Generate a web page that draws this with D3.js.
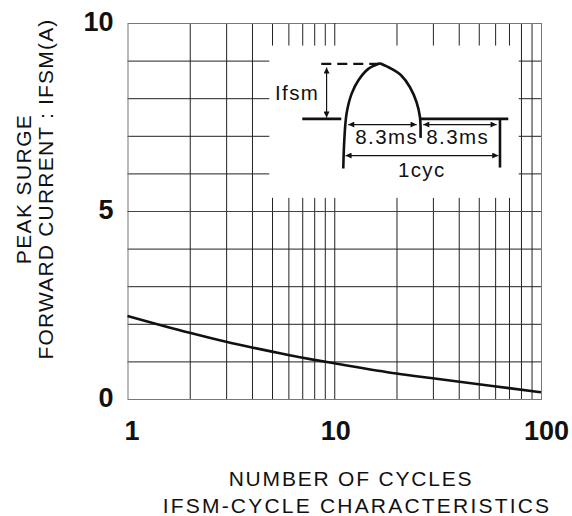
<!DOCTYPE html>
<html>
<head>
<meta charset="utf-8">
<script src="https://cdn.jsdelivr.net/npm/d3@7"></script>
<style>
  body { margin: 0; background: #fff; }
  text { font-family: "Liberation Sans", Arial, sans-serif; fill: #111; }
</style>
</head>
<body>
<svg id="chart"></svg>
<script>
// surge curve
const cycles = [1, 2, 3, 4, 5, 6, 8, 10, 20, 30, 50, 70, 100]
const ifsm = [2.21, 1.76, 1.52, 1.37, 1.26, 1.17, 1.04, 0.95, 0.68, 0.55, 0.39, 0.29, 0.18]

const xTicks = [1, 10, 100]
const xGrid = [2, 3, 4, 5, 6, 7, 8, 9, 20, 30, 40, 50, 60, 70, 80, 90]
const yTicks = [0, 5, 10]
const yGrid = [1, 2, 3, 4, 6, 7, 8, 9]

// where the inset sits, in chart units
const insetX = [4.85, 78]
const insetY = [5.35, 9.4]

const width = 572
const height = 516
const margin = { top: 23, right: 31, bottom: 117, left: 127.5 }
const w = width - margin.left - margin.right
const h = height - margin.top - margin.bottom

const svg = d3.select("#chart")
  .attr("width", width)
  .attr("height", height)

const g = svg.append("g")
  .attr("transform", `translate(${margin.left},${margin.top})`)

const x = d3.scaleLog().domain([1, 100]).range([0, w])
const y = d3.scaleLinear().domain([0, 10]).range([h, 0])

// grid
g.append("g")
  .attr("class", "grid")
  .attr("transform", `translate(0,${h})`)
  .call(d3.axisBottom(x).tickValues(xGrid).tickSize(-h).tickFormat(""))
  .call(s => s.select(".domain").remove())
  .selectAll("line").attr("stroke", "#222")

g.append("g")
  .attr("class", "grid")
  .call(d3.axisLeft(y).tickValues(yGrid).tickSize(-w).tickFormat(""))
  .call(s => s.select(".domain").remove())
  .selectAll("line").attr("stroke", "#222")

// frame
g.append("rect")
  .attr("x", 0.5).attr("y", 0.5)
  .attr("width", w).attr("height", h)
  .attr("fill", "none")
  .attr("stroke", "#777")

g.append("line")
  .attr("x1", x(10) + 0.5).attr("x2", x(10) + 0.5)
  .attr("y1", 0).attr("y2", h)
  .attr("stroke", "#222")
g.append("line")
  .attr("x1", 0).attr("x2", w)
  .attr("y1", y(5) + 0.5).attr("y2", y(5) + 0.5)
  .attr("stroke", "#444")

// tick labels
const xAxis = g.append("g")
  .attr("transform", `translate(0,${h})`)
  .call(d3.axisBottom(x).tickValues(xTicks).tickSize(0).tickFormat(d3.format("d")))
xAxis.select(".domain").remove()
xAxis.selectAll("text")
  .attr("y", 41)
  .attr("dy", 0)
  .attr("dx", (d, i) => [4, 1, 5][i])
  .attr("font-size", 27)
  .attr("font-weight", "bold")
  .attr("font-family", "Liberation Sans, Arial, sans-serif")
  .attr("fill", "#111")

const yAxis = g.append("g")
  .call(d3.axisLeft(y).tickValues(yTicks).tickSize(0).tickFormat(d3.format("d")))
yAxis.select(".domain").remove()
yAxis.selectAll("text")
  .attr("x", -14)
  .attr("y", 7)
  .attr("dy", 0)
  .attr("font-size", 27)
  .attr("font-weight", "bold")
  .attr("font-family", "Liberation Sans, Arial, sans-serif")
  .attr("fill", "#111")

// inset schematic
const ix0 = x(insetX[0]), ix1 = x(insetX[1])
const iy0 = y(insetY[1]), iy1 = y(insetY[0])

const ins = g.append("g")
  .attr("transform", `translate(${ix0},${iy0})`)

ins.append("rect")
  .attr("width", ix1 - ix0)
  .attr("height", iy1 - iy0)
  .attr("fill", "#fff")

const defs = svg.append("defs")
defs.append("marker")
  .attr("id", "ah")
  .attr("viewBox", "0 0 10 10")
  .attr("refX", 10).attr("refY", 5)
  .attr("markerUnits", "userSpaceOnUse")
  .attr("markerWidth", 8).attr("markerHeight", 6)
  .attr("orient", "auto-start-reverse")
  .append("path")
  .attr("d", "M0,0 L10,5 L0,10 z")
  .attr("fill", "#111")

const pulseUp = [[74, 123], [75, 95], [77.3, 68], [82.3, 48.3], [89, 35], [99, 23.3], [110.7, 17.7]]
const pulseDown = [[110.7, 17.7], [122.3, 23.3], [132, 30], [140.7, 41.7], [147.3, 56.7], [150.7, 71.7], [151.3, 92.3]]
const line = d3.line().curve(d3.curveCatmullRom)

ins.append("path").attr("d", line(pulseUp))
  .attr("fill", "none").attr("stroke", "#111").attr("stroke-width", 2.6)
ins.append("path").attr("d", line(pulseDown))
  .attr("fill", "none").attr("stroke", "#111").attr("stroke-width", 2.6)

const seg = (x1, y1, x2, y2) => ins.append("line")
  .attr("x1", x1).attr("y1", y1).attr("x2", x2).attr("y2", y2)
  .attr("stroke", "#111")

seg(33, 73.3, 72, 73.3).attr("stroke-width", 2.6)
seg(151, 73.3, 239, 73.3).attr("stroke-width", 2.6)
seg(230.7, 73.3, 230.7, 122).attr("stroke-width", 2.6)
seg(52, 18.3, 110, 18.3).attr("stroke-width", 2.4).attr("stroke-dasharray", "10,6")

seg(57.3, 22, 57.3, 72).attr("stroke-width", 1.2)
  .attr("marker-start", "url(#ah)").attr("marker-end", "url(#ah)")
seg(79, 79, 147.3, 79).attr("stroke-width", 1.2)
  .attr("marker-start", "url(#ah)").attr("marker-end", "url(#ah)")
seg(154, 79, 227.3, 79).attr("stroke-width", 1.2)
  .attr("marker-start", "url(#ah)").attr("marker-end", "url(#ah)")
seg(76.3, 110, 229, 110).attr("stroke-width", 1.2)
  .attr("marker-start", "url(#ah)").attr("marker-end", "url(#ah)")

const label = (tx, ty, str, anchor) => ins.append("text")
  .attr("x", tx).attr("y", ty)
  .attr("font-size", 20.5)
  .attr("letter-spacing", 1.4)
  .attr("text-anchor", anchor)
  .text(str)

label(5.7, 54, "Ifsm", "start")
label(86, 98.3, "8.3ms", "start")
label(157, 98.3, "8.3ms", "start")
label(152.5, 131.7, "1cyc", "middle")

// surge curve
const curve = d3.line()
  .x((d, i) => x(cycles[i]))
  .y(d => y(d))
  .curve(d3.curveMonotoneX)

g.append("path")
  .datum(ifsm)
  .attr("d", curve)
  .attr("fill", "none")
  .attr("stroke", "#111")
  .attr("stroke-width", 2.6)

// axis titles
svg.append("text")
  .attr("x", 351).attr("y", 485.5)
  .attr("text-anchor", "middle")
  .attr("font-size", 21)
  .attr("letter-spacing", 1.8)
  .text("NUMBER OF CYCLES")

svg.append("text")
  .attr("x", 357).attr("y", 513)
  .attr("text-anchor", "middle")
  .attr("font-size", 21)
  .attr("letter-spacing", 2.2)
  .text("IFSM-CYCLE CHARACTERISTICS")

const yTitle = svg.append("text")
  .attr("transform", "translate(30.5,189) rotate(-90)")
  .attr("text-anchor", "middle")
  .attr("font-size", 21)
yTitle.append("tspan").attr("x", 0).attr("y", 0).attr("letter-spacing", 1.4).text("PEAK SURGE")
yTitle.append("tspan").attr("x", 0).attr("y", 22).attr("letter-spacing", 1.2).text("FORWARD CURRENT : IFSM(A)")
</script>
</body>
</html>
